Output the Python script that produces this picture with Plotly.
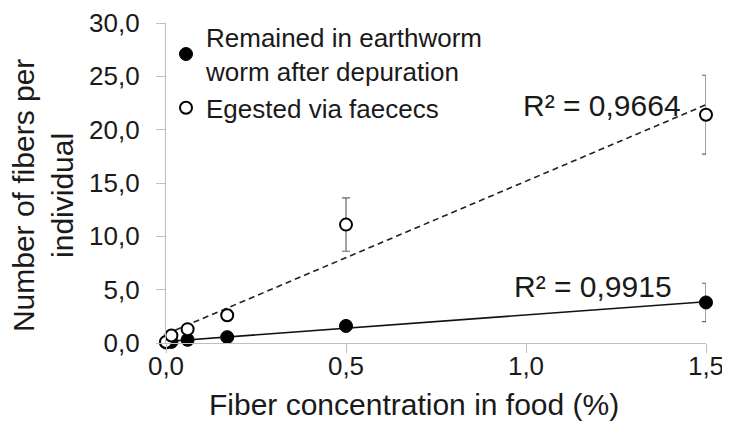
import numpy as np
import plotly.graph_objects as go

# Data
concentration = [0.0, 0.015, 0.06, 0.17, 0.5, 1.5]
remained = [0.05, 0.1, 0.3, 0.55, 1.6, 3.8]
remained_err = [0.05, 0.05, 0.1, 0.15, 0.2, 1.8]
egested = [0.1, 0.7, 1.3, 2.6, 11.1, 21.4]
egested_err = [0.05, 0.2, 0.4, 0.5, 2.5, 3.7]
r2_remained = "R² = 0,9915"
r2_egested = "R² = 0,9664"
x_ticks = [0, 0.5, 1.0, 1.5]
y_ticks = [0, 5, 10, 15, 20, 25, 30]

FONT = "Liberation Sans, Arial, sans-serif"
TXT = "#1a1a1a"

x_fit = np.array([0.0, 1.5])
p_rem = np.polyfit(concentration, remained, 1)
p_eg = np.polyfit(concentration, egested, 1)

fig = go.Figure()

fig.add_trace(go.Scatter(
    x=x_fit, y=np.polyval(p_eg, x_fit), mode="lines",
    line=dict(color="#222222", width=1.6, dash="6px,4px"),
    showlegend=False, hoverinfo="skip", cliponaxis=False))
fig.add_trace(go.Scatter(
    x=x_fit, y=np.polyval(p_rem, x_fit), mode="lines",
    line=dict(color="#111111", width=1.6),
    showlegend=False, hoverinfo="skip", cliponaxis=False))

fig.add_trace(go.Scatter(
    x=concentration, y=remained, mode="markers",
    name="Remained in earthworm<br>worm after depuration",
    marker=dict(color="#000000", size=13, line=dict(color="#000000", width=1)),
    error_y=dict(type="data", array=remained_err, visible=True,
                 color="#666666", thickness=1.2, width=4),
    cliponaxis=False))
fig.add_trace(go.Scatter(
    x=concentration, y=egested, mode="markers",
    name="Egested via faececs",
    marker=dict(color="#ffffff", size=12, symbol="circle",
                line=dict(color="#000000", width=2)),
    error_y=dict(type="data", array=egested_err, visible=True,
                 color="#666666", thickness=1.2, width=4),
    cliponaxis=False))

fig.add_annotation(x=1.436, y=22.3, xref="x", yref="y",
                   text=r2_egested, showarrow=False, xanchor="right", yanchor="middle",
                   font=dict(family=FONT, size=30, color=TXT))
fig.add_annotation(x=1.41, y=5.3, xref="x", yref="y",
                   text=r2_remained, showarrow=False, xanchor="right", yanchor="middle",
                   font=dict(family=FONT, size=30, color=TXT))

# axis titles
fig.add_annotation(x=0.459, y=0, xref="paper", yref="paper", yshift=-61,
                   text="Fiber concentration in food (%)", showarrow=False,
                   xanchor="center", yanchor="middle",
                   font=dict(family=FONT, size=30, color=TXT))
fig.add_annotation(x=0, y=0.459, xref="paper", yref="paper", xshift=-123,
                   text="Number of fibers per<br>individual", showarrow=False,
                   textangle=-90, xanchor="center", yanchor="middle",
                   font=dict(family=FONT, size=30, color=TXT))

axis_common = dict(showgrid=False, zeroline=False, showline=True,
                   linecolor="#bfbfbf", linewidth=1.2,
                   ticks="outside", tickcolor="#bfbfbf", ticklen=9, tickwidth=1.2,
                   tickfont=dict(family=FONT, size=26, color=TXT))

fig.update_layout(
    width=722, height=413,
    margin=dict(l=158, r=24, t=15, b=78, autoexpand=False),
    paper_bgcolor="white", plot_bgcolor="white",
    separators=",.",
    font=dict(family=FONT, color=TXT),
    xaxis=dict(range=[0, 1.5], tickvals=x_ticks, tickformat=".1f",
               ticklabelstandoff=-9, automargin=False, **axis_common),
    yaxis=dict(range=[0, 30], tickvals=y_ticks, tickformat=".1f",
               ticklabelstandoff=11, automargin=False, **axis_common),
    legend=dict(x=0.0, y=1.029, xanchor="left", yanchor="top",
                bgcolor="rgba(0,0,0,0)", tracegroupgap=0,
                font=dict(family=FONT, size=26, color=TXT),
                itemwidth=30),
    showlegend=True,
)

fig.write_html("out.html")
